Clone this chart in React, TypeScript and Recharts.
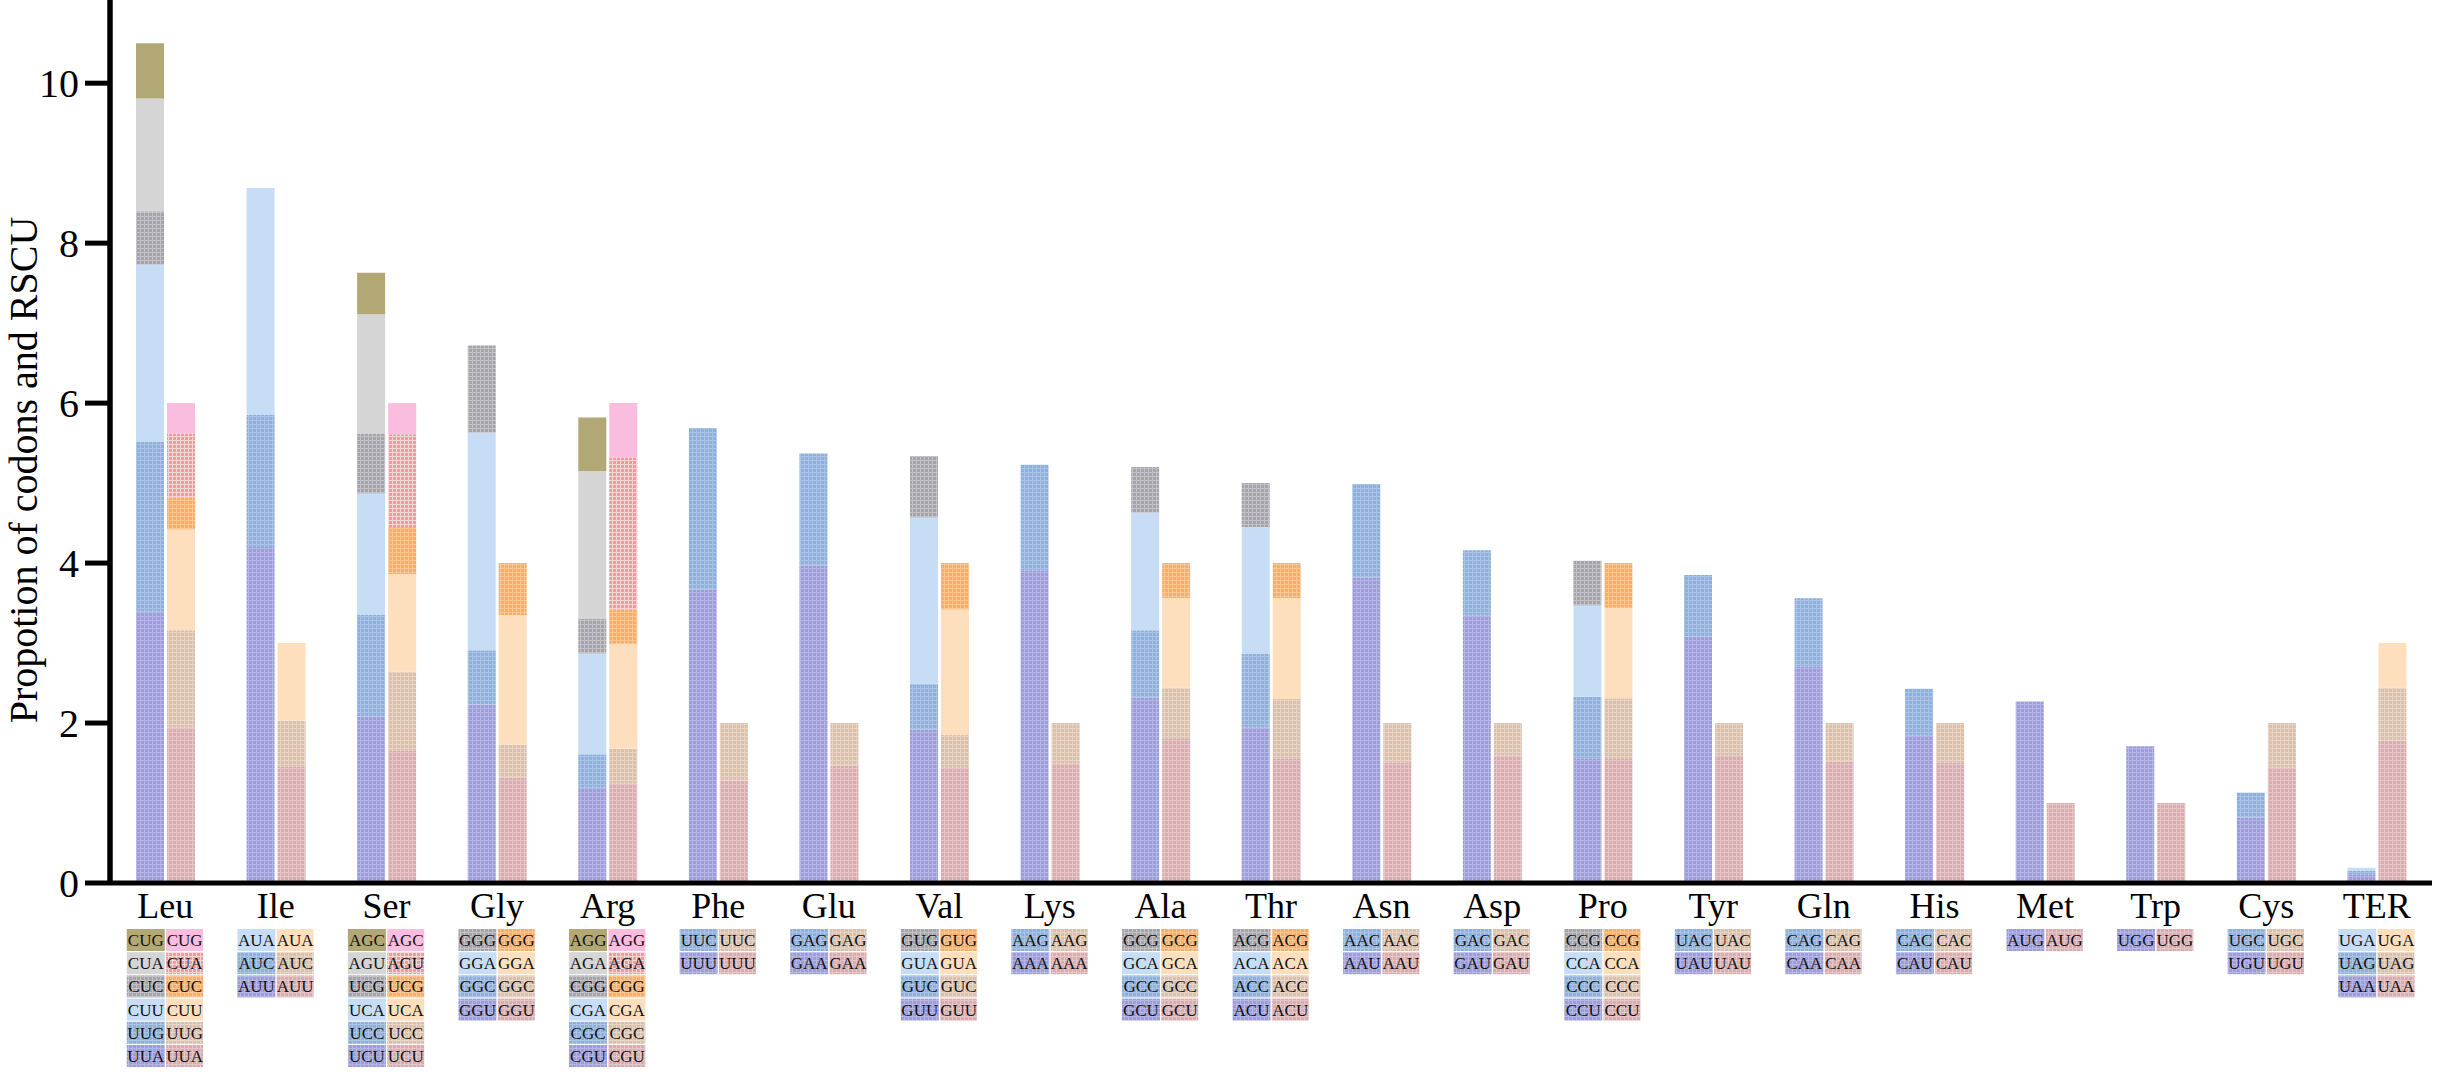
import React from 'react';
import { BarChart, Bar, XAxis, YAxis } from 'recharts';

// Amino acids (x categories)
const categories = ['Leu', 'Ile', 'Ser', 'Gly', 'Arg', 'Phe', 'Glu', 'Val', 'Lys', 'Ala', 'Thr', 'Asn', 'Asp', 'Pro', 'Tyr', 'Gln', 'His', 'Met', 'Trp', 'Cys', 'TER'];

// Codons by stack position (position 1 = bottom of the stack)
const codonPos1 = ['UUA', 'AUU', 'UCU', 'GGU', 'CGU', 'UUU', 'GAA', 'GUU', 'AAA', 'GCU', 'ACU', 'AAU', 'GAU', 'CCU', 'UAU', 'CAA', 'CAU', 'AUG', 'UGG', 'UGU', 'UAA'];
const codonPos2 = ['UUG', 'AUC', 'UCC', 'GGC', 'CGC', 'UUC', 'GAG', 'GUC', 'AAG', 'GCC', 'ACC', 'AAC', 'GAC', 'CCC', 'UAC', 'CAG', 'CAC', '', '', 'UGC', 'UAG'];
const codonPos3 = ['CUU', 'AUA', 'UCA', 'GGA', 'CGA', '', '', 'GUA', '', 'GCA', 'ACA', '', '', 'CCA', '', '', '', '', '', '', 'UGA'];
const codonPos4 = ['CUC', '', 'UCG', 'GGG', 'CGG', '', '', 'GUG', '', 'GCG', 'ACG', '', '', 'CCG', '', '', '', '', '', '', ''];
const codonPos5 = ['CUA', '', 'AGU', '', 'AGA', '', '', '', '', '', '', '', '', '', '', '', '', '', '', '', ''];
const codonPos6 = ['CUG', '', 'AGC', '', 'AGG', '', '', '', '', '', '', '', '', '', '', '', '', '', '', '', ''];

// Proportion of codons (left stacked bar), by stack position
const propPos1 = [3.39, 4.2, 2.08, 2.23, 1.19, 3.67, 3.97, 1.92, 3.91, 2.32, 1.94, 3.82, 3.34, 1.56, 3.08, 2.71, 1.84, 2.27, 1.71, 0.82, 0.11];
const propPos2 = [2.13, 1.65, 1.27, 0.68, 0.42, 2.02, 1.4, 0.57, 1.32, 0.84, 0.93, 1.17, 0.82, 0.77, 0.77, 0.85, 0.59, null, null, 0.31, 0.04];
const propPos3 = [2.21, 2.84, 1.52, 2.72, 1.26, null, null, 2.08, null, 1.47, 1.58, null, null, 1.14, null, null, null, null, null, null, 0.04];
const propPos4 = [0.67, null, 0.75, 1.09, 0.43, null, null, 0.77, null, 0.57, 0.55, null, null, 0.56, null, null, null, null, null, null, null];
const propPos5 = [1.41, null, 1.49, null, 1.85, null, null, null, null, null, null, null, null, null, null, null, null, null, null, null, null];
const propPos6 = [0.69, null, 0.52, null, 0.67, null, null, null, null, null, null, null, null, null, null, null, null, null, null, null, null];

// RSCU (right stacked bar), by stack position
const rscuPos1 = [1.94, 1.46, 1.66, 1.32, 1.24, 1.28, 1.47, 1.44, 1.49, 1.8, 1.56, 1.51, 1.59, 1.55, 1.59, 1.52, 1.51, 1.0, 1.0, 1.44, 1.78];
const rscuPos2 = [1.22, 0.57, 0.98, 0.41, 0.44, 0.72, 0.53, 0.41, 0.51, 0.64, 0.74, 0.49, 0.41, 0.76, 0.41, 0.48, 0.49, null, null, 0.56, 0.66];
const rscuPos3 = [1.26, 0.97, 1.22, 1.62, 1.31, null, null, 1.57, null, 1.12, 1.26, null, null, 1.13, null, null, null, null, null, null, 0.56];
const rscuPos4 = [0.4, null, 0.59, 0.65, 0.43, null, null, 0.58, null, 0.44, 0.44, null, null, 0.56, null, null, null, null, null, null, null];
const rscuPos5 = [0.8, null, 1.16, null, 1.9, null, null, null, null, null, null, null, null, null, null, null, null, null, null, null, null];
const rscuPos6 = [0.38, null, 0.39, null, 0.68, null, null, null, null, null, null, null, null, null, null, null, null, null, null, null, null];

const yTicks = [0, 2, 4, 6, 8, 10];
const yLabel = 'Propotion of codons and RSCU';

const codonPos = [codonPos1, codonPos2, codonPos3, codonPos4, codonPos5, codonPos6];
const propPos = [propPos1, propPos2, propPos3, propPos4, propPos5, propPos6];
const rscuPos = [rscuPos1, rscuPos2, rscuPos3, rscuPos4, rscuPos5, rscuPos6];

// Fill styles per stack position: [base, texture line or null]
const leftFills = [
  ['#9d9dd9', '#b6b6e6'],
  ['#8fb0da', '#abc4e5'],
  ['#c7ddf6', null],
  ['#a4a4aa', '#c2c2c6'],
  ['#d5d5d5', null],
  ['#b1a876', null],
];
const rightFills = [
  ['#d8adb0', '#e6c5c7'],
  ['#d9c0ac', '#e7d4c5'],
  ['#fddfbe', null],
  ['#f9ae68', '#fbc692'],
  ['#f49a9e', '#fbd3d5'],
  ['#fabde0', null],
];

const FONT = '"Liberation Serif", "Times New Roman", Times, serif';

const data = categories.map((name, i) => {
  const row: Record<string, any> = { name };
  for (let k = 0; k < 6; k++) {
    row[`p${k}`] = propPos[k][i] ?? 0;
    row[`r${k}`] = rscuPos[k][i] ?? 0;
  }
  return row;
});

function Pattern({ id, base, line }: { id: string; base: string; line: string | null }) {
  return (
    <pattern id={id} width={4} height={4} patternUnits="userSpaceOnUse">
      <rect x={0} y={0} width={4} height={4} fill={base} />
      {line ? <path d="M0 0.5H4M0.5 0V4" stroke={line} strokeWidth={1} /> : null}
    </pattern>
  );
}

function CodonTick(props: any) {
  const { x, y, payload } = props;
  const name = payload.value;
  const i = categories.indexOf(name);
  const rows: number[] = [];
  for (let k = 5; k >= 0; k--) if (codonPos[k][i]) rows.push(k);
  const top = y + 46;
  const pitch = 23.2;
  return (
    <g>
      <text x={x} y={y + 35} textAnchor="middle" style={{ fontFamily: FONT, fontSize: 36 }} fill="#000">
        {name}
      </text>
      {rows.map((k, r) => {
        const ry = top + r * pitch;
        const codon = codonPos[k][i];
        return (
          <g key={k}>
            <rect x={x - 38.5} y={ry} width={38} height={pitch - 1.2} fill={`url(#lp${k})`} />
            <rect x={x + 0.8} y={ry} width={37} height={pitch - 1.2} fill={`url(#rp${k})`} />
            <text x={x - 19.5} y={ry + 17} textAnchor="middle" style={{ fontFamily: FONT, fontSize: 17 }} fill="#111">
              {codon}
            </text>
            <text x={x + 19.3} y={ry + 17} textAnchor="middle" style={{ fontFamily: FONT, fontSize: 17 }} fill="#111">
              {codon}
            </text>
          </g>
        );
      })}
    </g>
  );
}

export default function App() {
  return (
    <div style={{ position: 'absolute', left: 0, top: 0, width: 2443, height: 1075, background: '#fff' }}>
      <BarChart
        width={2443}
        height={1075}
        data={data}
        margin={{ top: 0, right: 11, bottom: 12, left: 50 }}
        barSize={28}
        barGap={3}
      >
        <defs>
          {leftFills.map((f, k) => (
            <Pattern key={`l${k}`} id={`lp${k}`} base={f[0] as string} line={f[1]} />
          ))}
          {rightFills.map((f, k) => (
            <Pattern key={`r${k}`} id={`rp${k}`} base={f[0] as string} line={f[1]} />
          ))}
        </defs>
        <XAxis
          dataKey="name"
          height={180}
          interval={0}
          tickSize={0}
          tickMargin={0}
          tickLine={false}
          axisLine={{ stroke: '#000', strokeWidth: 5 }}
          tick={(p: any) => <CodonTick {...p} />}
        />
        <YAxis
          width={60}
          domain={[0, 11.04]}
          ticks={yTicks}
          allowDataOverflow
          tickSize={25}
          tickMargin={6}
          tickLine={{ stroke: '#000', strokeWidth: 5 }}
          axisLine={{ stroke: '#000', strokeWidth: 5.5 }}
          tick={{ fontSize: 40, fill: '#000', fontFamily: FONT }}
        />
        {propPos.map((_, k) => (
          <Bar key={`p${k}`} dataKey={`p${k}`} stackId="prop" fill={`url(#lp${k})`} isAnimationActive={false} />
        ))}
        {rscuPos.map((_, k) => (
          <Bar key={`r${k}`} dataKey={`r${k}`} stackId="rscu" fill={`url(#rp${k})`} isAnimationActive={false} />
        ))}
        <text
          x={37}
          y={470}
          transform="rotate(-90 37 470)"
          textAnchor="middle"
          style={{ fontFamily: FONT, fontSize: 40 }}
          fill="#000"
        >
          {yLabel}
        </text>
      </BarChart>
    </div>
  );
}
